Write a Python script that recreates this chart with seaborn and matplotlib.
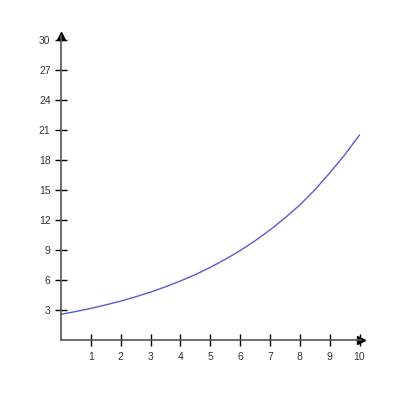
import numpy as np
import pandas as pd
import seaborn as sns
import matplotlib
matplotlib.use("Agg")
import matplotlib.pyplot as plt

# values
x_vals = [0, 0.5, 1, 1.5, 2, 2.5, 3, 3.5, 4, 4.5, 5,
          5.5, 6, 6.5, 7, 7.5, 8, 8.5, 9, 9.5, 10]
y_vals = [2.57, 2.85, 3.16, 3.51, 3.89, 4.32, 4.79, 5.32, 5.90, 6.54, 7.26,
          8.06, 8.94, 9.92, 11.0, 12.2, 13.5, 15.0, 16.7, 18.5, 20.5]
x_ticks = [1, 2, 3, 4, 5, 6, 7, 8, 9, 10]
y_ticks = [3, 6, 9, 12, 15, 18, 21, 24, 27, 30]

sns.set_style("white")
plt.rcParams['font.family'] = ['Liberation Sans', 'DejaVu Sans']

df = pd.DataFrame({"x": x_vals, "y": y_vals})

fig = plt.figure(figsize=(4, 4), dpi=100)
ax = fig.add_axes([0.1525, 0.15, 0.75, 0.76])
sns.lineplot(data=df, x="x", y="y", ax=ax, color="#5a5ad2", linewidth=1.0)

ax.set_xlim(0, 10.05)
ax.set_ylim(0, 30.4)
ax.set_xticks(x_ticks)
ax.set_yticks(y_ticks)
ax.set_xlabel("")
ax.set_ylabel("")

for side in ["top", "right"]:
    ax.spines[side].set_visible(False)
for side in ["left", "bottom"]:
    ax.spines[side].set_color("#555555")
    ax.spines[side].set_linewidth(1.2)

ax.tick_params(axis="both", direction="inout", length=9, width=1,
               bottom=True, left=True,
               color="black", labelsize=7.5, labelcolor="#333333", pad=3)
ax.tick_params(axis="x", pad=4)

# arrowheads at the axis ends
ax.plot(1, 0, ">", color="black", markersize=5.5, transform=ax.transAxes, clip_on=False)
ax.plot(0, 1, "^", color="black", markersize=5.5, transform=ax.transAxes, clip_on=False)

fig.savefig("out.png", dpi=100)
